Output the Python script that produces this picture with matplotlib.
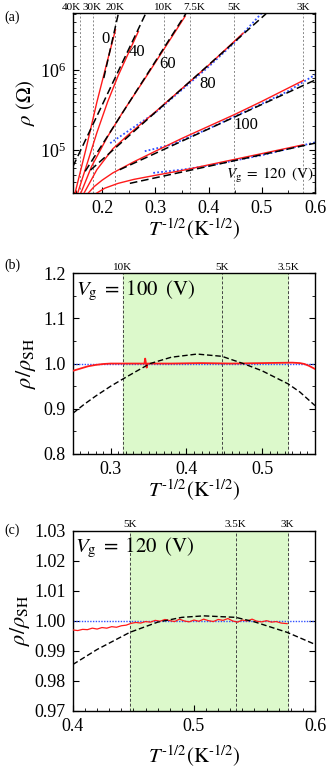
"""Three-panel resistivity figure: rho vs T^-1/2 and normalized ratios."""

import numpy as np
import matplotlib
matplotlib.use("Agg")
import matplotlib.pyplot as plt
from matplotlib import transforms
from matplotlib.ticker import MultipleLocator, FixedLocator, NullFormatter

plt.rcParams["font.family"] = ["Liberation Serif", "DejaVu Serif"]
plt.rcParams["mathtext.fontset"] = "stix"

# ---- panel (a): measured curves, x = T^-1/2, y = log10(rho)
red0_x = [0.149, 0.170, 0.190, 0.210, 0.225]
red0_y = [4.47, 5.03, 5.60, 6.12, 6.50]
red40_x = [0.154, 0.170, 0.190, 0.210, 0.230, 0.250, 0.268]
red40_y = [4.47, 4.80, 5.22, 5.60, 5.93, 6.22, 6.48]
red60_x = [0.160, 0.180, 0.210, 0.240, 0.280, 0.320, 0.356]
red60_y = [4.47, 4.80, 5.17, 5.49, 5.89, 6.30, 6.67]
red80_x = [0.166, 0.190, 0.220, 0.250, 0.300, 0.350, 0.400, 0.465]
red80_y = [4.47, 4.76, 5.02, 5.20, 5.48, 5.77, 6.06, 6.46]
red100_x = [0.174, 0.185, 0.200, 0.220, 0.260, 0.300, 0.350, 0.400, 0.450, 0.500, 0.578]
red100_y = [4.47, 4.55, 4.63, 4.72, 4.86, 4.99, 5.15, 5.30, 5.45, 5.61, 5.87]
red120_x = [0.190, 0.205, 0.230, 0.260, 0.300, 0.350, 0.400, 0.450, 0.500, 0.578]
red120_y = [4.47, 4.53, 4.59, 4.64, 4.69, 4.75, 4.82, 4.89, 4.96, 5.07]

# black dashed fits (end points)
fit_x = [(0.203, 0.231), (0.145, 0.283), (0.168, 0.359), (0.178, 0.508),
         (0.233, 0.600), (0.252, 0.600)]
fit_y = [(5.90, 6.72), (4.80, 6.72), (4.74, 6.72), (4.755, 6.70),
         (4.76, 5.875), (4.59, 5.09)]

# blue dotted fits
blue80_x = [0.215, 0.300, 0.400, 0.450, 0.500]
blue80_y = [5.09, 5.47, 6.04, 6.35, 6.71]
blue100_x = [0.280, 0.330, 0.400, 0.500, 0.550, 0.600]
blue100_y = [4.99, 5.07, 5.27, 5.58, 5.74, 5.94]
blue120_x = [0.296, 0.350, 0.400, 0.500, 0.600]
blue120_y = [4.72, 4.76, 4.81, 4.94, 5.10]

curve_labels = ["0", "40", "60", "80", "100"]
label_x = [0.207, 0.266, 0.322, 0.398, 0.470]
label_y = [6.38, 6.23, 6.08, 5.83, 5.32]

temps_a = [40, 30, 20, 10, 7.5, 5, 3]
temp_labels_a = ["40K", "30K", "20K", "10K", "7.5K", "5K", "3K"]

# ---- panel (b): Vg = 100 V
b_red_x = [0.250, 0.260, 0.270, 0.280, 0.290, 0.300, 0.320, 0.340, 0.3445,
           0.3455, 0.3475, 0.3485, 0.380, 0.420, 0.460, 0.500, 0.540, 0.550,
           0.556, 0.562, 0.570]
b_red_y = [0.984, 0.989, 0.994, 0.997, 0.999, 1.000, 1.000, 1.000, 1.000,
           1.011, 0.991, 1.000, 1.000, 1.001, 1.000, 1.001, 1.002, 1.001,
           0.999, 0.995, 0.988]
b_fit_x = [0.250, 0.265, 0.280, 0.300, 0.3162, 0.335, 0.352, 0.380, 0.414,
           0.447, 0.475, 0.500, 0.5345, 0.550, 0.570]
b_fit_y = [0.890, 0.910, 0.928, 0.950, 0.966, 0.984, 1.000, 1.014, 1.021,
           1.016, 1.000, 0.984, 0.955, 0.937, 0.907]
temps_b = [10, 5, 3.5]
temp_labels_b = ["10K", "5K", "3.5K"]

# ---- panel (c): Vg = 120 V
c_red_x = [0.400, 0.404, 0.408, 0.412, 0.416, 0.420, 0.424, 0.428, 0.432,
           0.436, 0.440, 0.444, 0.448, 0.452, 0.456, 0.460, 0.464, 0.468,
           0.472, 0.476, 0.480, 0.484, 0.488, 0.492, 0.496, 0.500, 0.504,
           0.508, 0.512, 0.516, 0.520, 0.524, 0.528, 0.532, 0.536, 0.540,
           0.544, 0.548, 0.552, 0.556, 0.560, 0.564, 0.568, 0.572, 0.577]
c_red_y = [0.9970, 0.9968, 0.9972, 0.9971, 0.9976, 0.9973, 0.9978, 0.9976,
           0.9981, 0.9979, 0.9984, 0.9986, 0.9992, 0.9995, 0.9993, 0.9998,
           0.9996, 1.0002, 0.9999, 1.0005, 1.0001, 0.9998, 1.0006, 1.0000,
           0.9997, 1.0003, 0.9999, 1.0006, 1.0001, 0.9998, 1.0005, 1.0002,
           1.0008, 1.0000, 0.9996, 1.0003, 1.0000, 1.0006, 0.9999, 0.9997,
           1.0001, 0.9996, 0.9998, 0.9993, 0.9991]
c_fit_x = [0.400, 0.420, 0.447, 0.470, 0.490, 0.508, 0.5345, 0.550, 0.577,
           0.600]
c_fit_y = [0.9855, 0.9905, 0.9962, 0.9996, 1.0012, 1.0017, 1.0012, 0.9997,
           0.9962, 0.9922]
temps_c = [5, 3.5, 3]
temp_labels_c = ["5K", "3.5K", "3K"]

RED = "#ff1a1a"
BLUE = "#3050ff"
GREEN = "#dcf9cb"
XLABEL = r"$T^{\text{-}1/2}(\mathrm{K}^{\text{-}1/2})$"
YLABEL_R = r"$\rho/\rho_{\mathrm{SH}}$"


def style_axes(ax):
    ax.tick_params(which="both", direction="in", right=True, top=False,
                   labelsize=13)
    ax.tick_params(which="major", length=4, width=0.8, pad=5)
    ax.tick_params(which="minor", length=2, width=0.6)
    for s in ax.spines.values():
        s.set_linewidth(1.0)


def top_labels(ax, temps, labels, shifts=None):
    # shifts: horizontal nudge in points so crowded labels do not collide
    if shifts is None:
        shifts = [0] * len(temps)
    for t, lab, dx in zip(temps, labels, shifts):
        tr = transforms.offset_copy(ax.get_xaxis_transform(), fig=ax.figure,
                                    x=dx, y=0, units="points")
        ax.text(1 / np.sqrt(t), 1.008, lab, transform=tr,
                ha="center", va="bottom", fontsize=8)


fig = plt.figure(figsize=(3.33, 7.76), dpi=100)

# ------------------------------------------------------------ (a)
ax = fig.add_axes([0.219, 0.7513, 0.727, 0.232])
ax.set_yscale("log")
for t in temps_a:
    ax.axvline(1 / np.sqrt(t), color="#888888", ls=(0, (2, 2)), lw=0.7)
reds = [(red0_x, red0_y), (red40_x, red40_y), (red60_x, red60_y),
        (red80_x, red80_y), (red100_x, red100_y), (red120_x, red120_y)]
for xs, ys in reds:
    ax.plot(xs, 10 ** np.asarray(ys), color=RED, lw=1.0, zorder=3)
for (x0, x1), (y0, y1) in zip(fit_x, fit_y):
    ax.plot([x0, x1], [10 ** y0, 10 ** y1], color="black", lw=1.1,
            ls=(0, (5, 2.5)), zorder=4)
for xs, ys in [(blue80_x, blue80_y), (blue100_x, blue100_y),
               (blue120_x, blue120_y)]:
    ax.plot(xs, 10 ** np.asarray(ys), color=BLUE, lw=1.3, ls=(0, (1, 1.2)),
            zorder=2)
for lab, lx, ly in zip(curve_labels, label_x, label_y):
    ax.text(lx, 10 ** ly, lab, fontsize=12, ha="center", va="center",
            zorder=5)
ax.text(0.598, 10 ** 4.69, r"$V_{\rm g}\;=\;120\;\;(\mathrm{V})$",
        fontsize=11, ha="right", va="center", zorder=5)
ax.set_xlim(0.145, 0.6)
ax.set_ylim(10 ** 4.47, 10 ** 6.71)
ax.xaxis.set_major_locator(MultipleLocator(0.1))
ax.xaxis.set_minor_locator(MultipleLocator(0.05))
ax.yaxis.set_major_locator(FixedLocator([1e5, 1e6]))
ax.yaxis.set_minor_formatter(NullFormatter())
style_axes(ax)
top_labels(ax, temps_a, temp_labels_a, shifts=[-6, -1, 0, 0, 3, 0, 0])
ax.set_xlabel(XLABEL, fontsize=15, labelpad=0)
ax.set_ylabel(r"$\rho\ (\Omega)$", fontsize=15, labelpad=2)
fig.text(0.012, 0.987, "(a)", fontsize=10, va="top")

# ------------------------------------------------------------ (b)
ax = fig.add_axes([0.219, 0.415, 0.727, 0.233])
ax.axvspan(1 / np.sqrt(10), 1 / np.sqrt(3.5), color=GREEN, zorder=0)
for t in temps_b:
    ax.axvline(1 / np.sqrt(t), color="#444444", ls=(0, (3, 2)), lw=0.7,
               zorder=1)
ax.axhline(1.0, color=BLUE, lw=1.0, ls=(0, (1, 1)), zorder=2)
ax.plot(b_red_x, b_red_y, color=RED, lw=1.3, zorder=3)
ax.plot(b_fit_x, b_fit_y, color="black", lw=1.0, ls=(0, (4, 2)), zorder=4)
ax.text(0.254, 1.187, r"$V_{\rm g}\;=\;100\;\;(\mathrm{V})$", fontsize=15,
        ha="left", va="top", zorder=5)
ax.set_xlim(0.25, 0.57)
ax.set_ylim(0.8, 1.2)
ax.xaxis.set_major_locator(MultipleLocator(0.1))
ax.xaxis.set_minor_locator(MultipleLocator(0.01))
ax.yaxis.set_major_locator(MultipleLocator(0.1))
ax.yaxis.set_minor_locator(MultipleLocator(0.05))
style_axes(ax)
top_labels(ax, temps_b, temp_labels_b)
ax.set_xlabel(XLABEL, fontsize=15, labelpad=0)
ax.set_ylabel(YLABEL_R, fontsize=16, labelpad=4)
fig.text(0.012, 0.667, "(b)", fontsize=10, va="top")

# ------------------------------------------------------------ (c)
ax = fig.add_axes([0.219, 0.0838, 0.727, 0.232])
ax.axvspan(1 / np.sqrt(5), 1 / np.sqrt(3), color=GREEN, zorder=0)
for t in temps_c:
    ax.axvline(1 / np.sqrt(t), color="#444444", ls=(0, (3, 2)), lw=0.7,
               zorder=1)
ax.axhline(1.0, color=BLUE, lw=1.0, ls=(0, (1, 1)), zorder=2)
ax.plot(c_red_x, c_red_y, color=RED, lw=0.9, zorder=3)
ax.plot(c_fit_x, c_fit_y, color="black", lw=1.0, ls=(0, (4, 2)), zorder=4)
ax.text(0.402, 1.0285, r"$V_{\rm g}\;=\;120\;\;(\mathrm{V})$", fontsize=15,
        ha="left", va="top", zorder=5)
ax.set_xlim(0.4, 0.6)
ax.set_ylim(0.97, 1.03)
ax.xaxis.set_major_locator(MultipleLocator(0.1))
ax.xaxis.set_minor_locator(MultipleLocator(0.01))
ax.yaxis.set_major_locator(MultipleLocator(0.01))
ax.yaxis.set_major_formatter(plt.FormatStrFormatter("%.2f"))
style_axes(ax)
top_labels(ax, temps_c, temp_labels_c)
ax.set_xlabel(XLABEL, fontsize=15, labelpad=6)
ax.set_ylabel(YLABEL_R, fontsize=16, labelpad=2)
fig.text(0.012, 0.325, "(c)", fontsize=10, va="top")

fig.savefig("out.png", dpi=100)
